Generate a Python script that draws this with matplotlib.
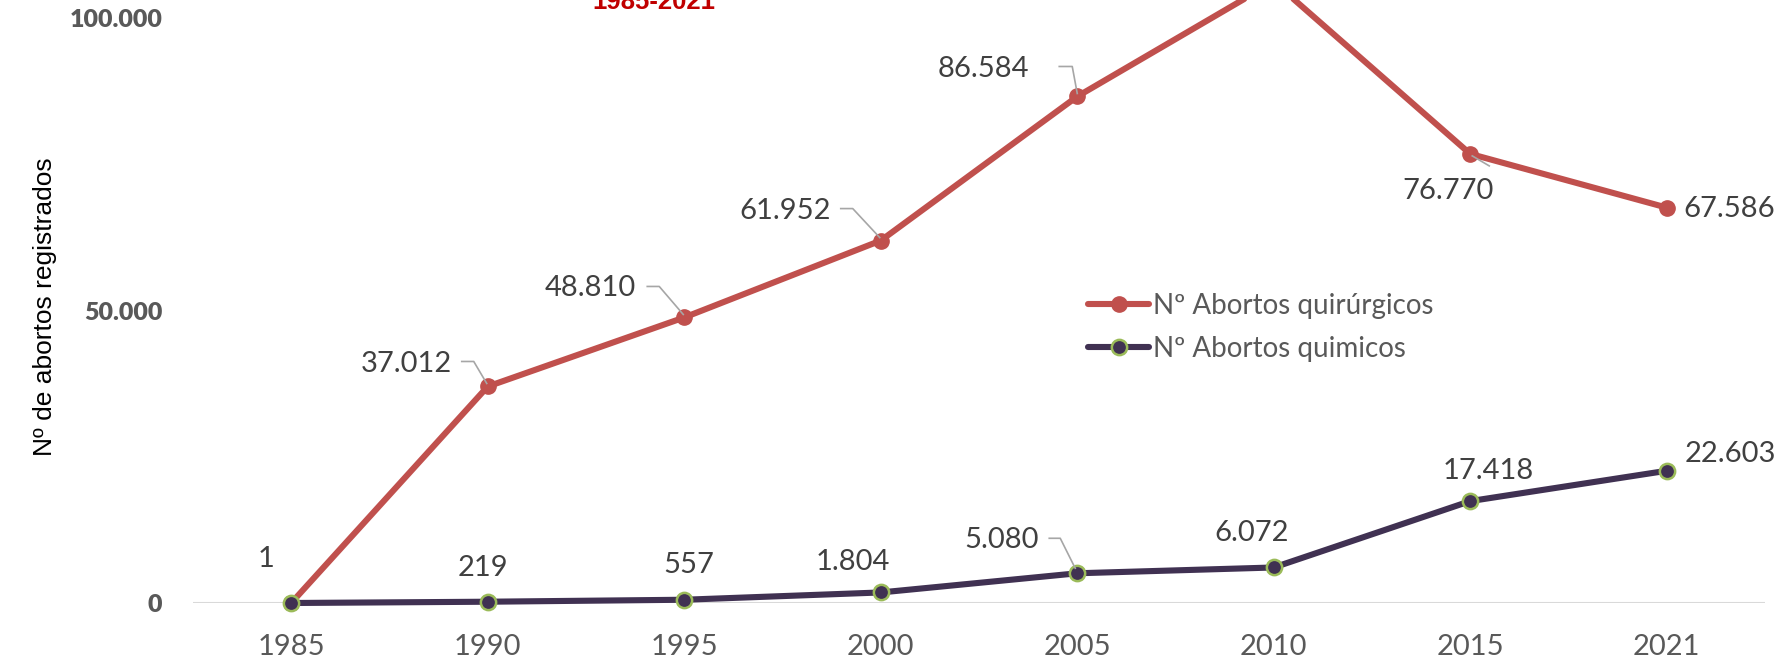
import matplotlib
matplotlib.use("Agg")
import matplotlib.pyplot as plt
from matplotlib.transforms import ScaledTranslation

# datos
years = ["1985", "1990", "1995", "2000", "2005", "2010", "2015", "2021"]
quirurgicos = [1, 37012, 48810, 61952, 86584, 106200, 76770, 67586]
quimicos = [0, 219, 557, 1804, 5080, 6072, 17418, 22603]
yticks = [0, 50000, 100000]

RED = "#C0504D"
PURPLE = "#403152"
GREEN = "#9BBB59"
LABEL = "#404040"
TICK = "#595959"
LEADER = "#A6A6A6"
FONT = ["Lato", "DejaVu Sans"]


def fmt(v):
    return f"{v:,}".replace(",", ".")


fig = plt.figure(figsize=(17.77, 6.6), dpi=100)
ax = fig.add_axes([193 / 1777, 1 - 603 / 660, 1572 / 1777, 603 / 660])
ax.set_xlim(-0.5, len(years) - 0.5)
ax.set_ylim(0, 100000 * 603 / 585)
ax.set_autoscale_on(False)

x = list(range(len(years)))
ax.plot(x, quirurgicos, color=RED, lw=4.4, marker="o", ms=11,
        mfc=RED, mec=RED, solid_capstyle="round", zorder=3, clip_on=False,
        label="Nº Abortos quirúrgicos")
ax.plot(x, quimicos, color=PURPLE, lw=4.4, marker="o", ms=11,
        mfc=PURPLE, mec=GREEN, mew=1.8, solid_capstyle="round", zorder=4,
        clip_on=False, label="Nº Abortos quimicos")

for s in ax.spines.values():
    s.set_visible(False)
ax.axhline(0, color="#D9D9D9", lw=1.5, zorder=1)

ax.set_xticks(x)
ax.set_xticklabels(years, fontsize=21, color=TICK, family=FONT)
ax.set_yticks(yticks)
ax.set_yticklabels([fmt(v) for v in yticks], fontsize=18, color=TICK,
                   fontweight="heavy", family=FONT)
ax.tick_params(axis="both", length=0)
ax.tick_params(axis="x", pad=22)
ax.tick_params(axis="y", pad=22)

fig.text(45 / 1777, 1 - 307 / 660, "Nº de abortos registrados", rotation=90,
         ha="center", va="center", fontsize=19, color="black",
         family=["Liberation Sans", "DejaVu Sans"])

# titulo cortado arriba
fig.text(654 / 1777, 1 - 9 / 660, "1985-2021", ha="center", va="baseline",
         fontsize=18.5, fontweight="bold", color="#C00000",
         family=["Liberation Sans", "DejaVu Sans"])

# etiquetas: (dx, dy, ha, leader)
red_lbl = [
    (-25, 44, "center", None),
    (-36, 22, "right", [(-26, 25), (-14, 25), (-1, 3)]),
    (-48, 29, "right", [(-37, 31), (-25, 31), (-1, 3)]),
    (-50, 30, "right", [(-40, 32), (-28, 32), (-1, 3)]),
    (-48, 27, "right", [(-18, 30), (-5, 30), (0, 3)]),
    None,
    (-22, -37, "center", [(2, -2), (19, -12)]),
    (17, -1, "left", None),
]
chem_lbl = [
    None,
    (-5, 34, "center", None),
    (5, 35, "center", None),
    (-28, 30, "center", None),
    (-38, 33, "right", [(-28, 35), (-17, 35), (-2, 5)]),
    (-22, 34, "center", None),
    (18, 30, "center", None),
    (18, 17, "left", None),
]

for vals, lbls in ((quirurgicos, red_lbl), (quimicos, chem_lbl)):
    for i, v in enumerate(vals):
        spec = lbls[i]
        if spec is None:
            continue
        dx, dy, ha, lead = spec
        ax.annotate(fmt(v), xy=(i, v), xytext=(dx, dy),
                    textcoords="offset pixels", ha=ha, va="center",
                    fontsize=21, color=LABEL, family=FONT,
                    annotation_clip=False, zorder=5)
        if lead:
            tr = ScaledTranslation(i, v, ax.transData)
            ax.plot([p[0] for p in lead], [p[1] for p in lead], color=LEADER,
                    lw=1.2, transform=tr, clip_on=False, zorder=5)

leg = ax.legend(loc="upper left", bbox_to_anchor=(1088 / 1777, 1 - 293 / 660),
                bbox_transform=fig.transFigure, frameon=False,
                handlelength=2.2, handletextpad=0.15, labelspacing=0.6,
                borderaxespad=0, borderpad=0, prop={"family": FONT, "size": 20})
for t in leg.get_texts():
    t.set_color(TICK)

fig.savefig("out.png", dpi=100)
